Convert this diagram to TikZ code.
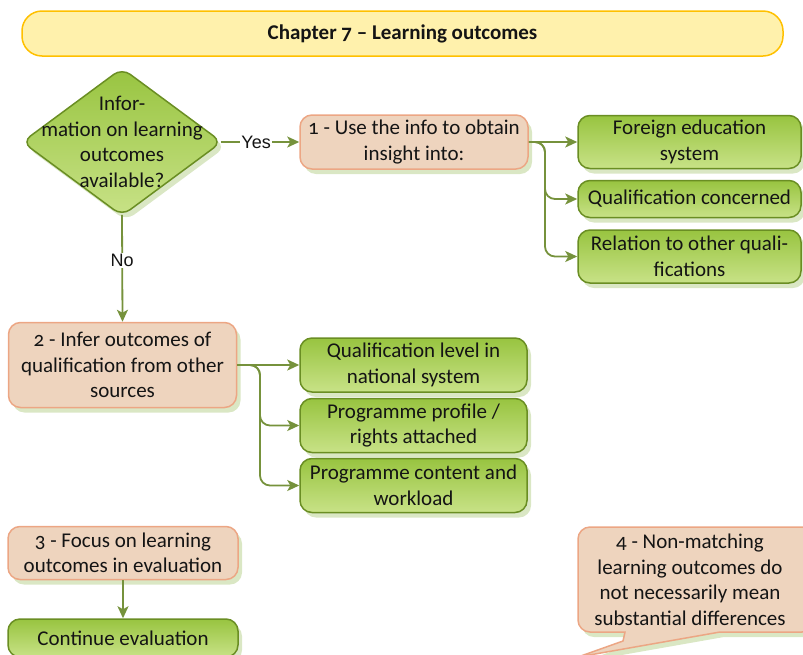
\documentclass[tikz,border=0pt]{standalone}
\usepackage{fontspec}
\setmainfont{Carlito}[Numbers=OldStyle]
\newfontfamily\arialf{Liberation Sans}
\usetikzlibrary{arrows.meta,shadows,shapes.geometric}
\definecolor{gborder}{RGB}{106,142,35}
\definecolor{gtop}{RGB}{152,196,64}
\definecolor{gbot}{RGB}{200,226,135}
\definecolor{pfill}{RGB}{238,212,190}
\definecolor{pborder}{RGB}{236,166,132}
\definecolor{shcol}{RGB}{214,228,190}
\definecolor{yfill}{RGB}{255,241,172}
\definecolor{yborder}{RGB}{255,192,0}
\definecolor{arrcol}{RGB}{118,146,60}
\definecolor{txt}{RGB}{20,20,20}
\tikzset{
 body/.style={font=\fontsize{21pt}{25.5pt}\selectfont, text=txt, align=center, inner sep=0pt},
 sh/.style={drop shadow={shadow xshift=4pt, shadow yshift=-5pt, fill=shcol, opacity=0.9}},
 gbox/.style={body, sh, rounded corners=12pt, draw=gborder, line width=1.5pt, top color=gtop, bottom color=gbot, minimum width=223pt},
 pbox/.style={body, sh, rounded corners=12pt, draw=pborder, line width=1.5pt, fill=pfill},
 conn/.style={draw=arrcol, line width=1.8pt, -{Stealth[length=12pt,width=11pt,inset=3pt]}},
 lbl/.style={font=\arialf\fontsize{18pt}{20pt}\selectfont, fill=white, inner sep=1pt, text=txt},
}
\begin{document}
\begin{tikzpicture}[x=1pt,y=-1pt]
\useasboundingbox (0,0) rectangle (803,654);
\clip (0,0) rectangle (803,654);
% title
\node[body, font=\bfseries\fontsize{21pt}{25pt}\selectfont, rounded corners=20pt, draw=yborder, line width=1.5pt, fill=yfill, minimum width=761pt, minimum height=45pt] (title) at (402.5,33.5) {Chapter 7 -- Learning outcomes};
% decision
\node[diamond, draw=gborder, line width=1.5pt, top color=gtop, bottom color=gbot, rounded corners=10pt, sh, minimum width=200pt, minimum height=148pt, inner sep=0pt] (dia) at (122,142) {};
\node[body] (diat) at (122,142) {Infor-\\mation on learning\\outcomes\\available?};
% step 1
\node[pbox, minimum width=228pt, minimum height=54pt] (b1) at (414,142) {1 - Use the info to obtain\\insight into:};
\node[gbox, minimum height=53pt] (A) at (689.5,142) {Foreign education\\system};
\node[gbox, minimum height=37pt] (B) at (689.5,199) {Qualification concerned};
\node[gbox, minimum height=53pt] (C) at (689.5,256.5) {Relation to other quali-\\fications};
% step 2
\node[pbox, minimum width=228pt, minimum height=85pt] (b2) at (122.5,365) {2 - Infer outcomes of\\qualification from other\\sources};
\node[gbox, minimum width=227pt, minimum height=54pt] (D) at (413.5,365) {Qualification level in\\national system};
\node[gbox, minimum width=227pt, minimum height=54pt] (E) at (413.5,425.5) {Programme profile /\\rights attached};
\node[gbox, minimum width=227pt, minimum height=54pt] (F) at (413.5,485.5) {Programme content and\\workload};
% step 3
\node[pbox, minimum width=230pt, minimum height=53pt] (b3) at (123,553) {3 - Focus on learning\\outcomes in evaluation};
\node[gbox, minimum width=230pt, minimum height=38pt] (G) at (123,638) {Continue evaluation};
% callout
\path[draw=pborder, line width=1.5pt, fill=pfill, sh] (625,632) [rounded corners=12pt] -- (578,632) -- (578,527) -- (814,527) -- (814,632) [sharp corners] -- (720,632) -- (578,657) -- (623,641) -- cycle;
\node[body] (note) at (690,580) {4 - Non-matching\\learning outcomes do\\not necessarily mean\\substantial differences};
% connectors
\draw[conn] ([xshift=-2pt]dia.east) -- node[lbl, pos=0.45] {Yes} (b1.west);
\draw[conn] ([yshift=2pt]dia.south) -- node[lbl, pos=0.43] {No} (b2.north);
\coordinate (t1) at (545,142);
\draw[conn] (b1.east) -- (A.west);
\draw[conn, rounded corners=10pt] (b1.east) -- (t1) -- (t1 |- B.west) -- (B.west);
\draw[conn, rounded corners=10pt] (b1.east) -- (t1) -- (t1 |- C.west) -- (C.west);
\coordinate (t2) at (260,365);
\draw[conn] (b2.east) -- (D.west);
\draw[conn, rounded corners=10pt] (b2.east) -- (t2) -- (t2 |- E.west) -- (E.west);
\draw[conn, rounded corners=10pt] (b2.east) -- (t2) -- (t2 |- F.west) -- (F.west);
\draw[conn] (b3.south) -- (G.north);
\end{tikzpicture}
\end{document}
